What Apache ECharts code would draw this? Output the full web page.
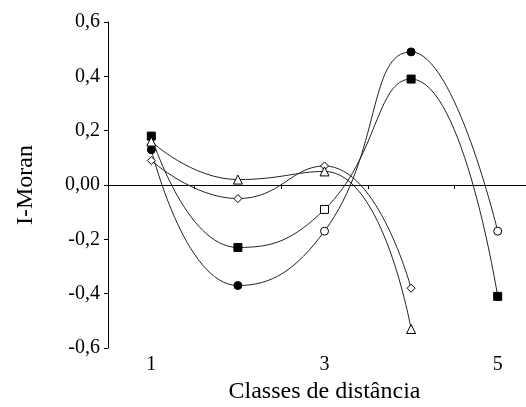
<!DOCTYPE html>
<html>
<head>
<meta charset="utf-8">
<script src="https://cdn.jsdelivr.net/npm/echarts@6/dist/echarts.min.js"></script>
<style>
  html, body { margin: 0; padding: 0; background: #fff; }
  #main { width: 526px; height: 407px; }
</style>
</head>
<body>
<div id="main"></div>
<script>
// classes de distância e valores de I de Moran
const classes = ['1', '2', '3', '4', '5'];
const circulos = [0.13, -0.37, -0.17, 0.49, -0.17];
const circulosCheios = [true, true, false, true, false];
const quadrados = [0.18, -0.23, -0.09, 0.39, -0.41];
const quadradosCheios = [true, true, false, true, true];
const losangos = [0.09, -0.05, 0.07, -0.38];
const triangulos = [0.16, 0.02, 0.05, -0.53];
const yTicks = [-0.6, 0.6, 0.2]; // min, max, intervalo

const fonte = 'Liberation Serif';

// monta os pontos, preenchidos ou vazados
function pontos(valores, cheios) {
  return valores.map((v, i) => ({
    value: v,
    itemStyle: { color: cheios && cheios[i] ? '#000' : '#fff' }
  }));
}

function serie(nome, simbolo, tamanho, dados) {
  return {
    name: nome,
    type: 'line',
    xAxisIndex: 0,
    smooth: 0.5,
    symbol: simbolo,
    symbolSize: tamanho,
    showAllSymbol: true,
    data: dados,
    lineStyle: { color: '#222', width: 1 },
    itemStyle: { color: '#fff', borderColor: '#000', borderWidth: 1 },
    z: 3
  };
}

const myChart = echarts.init(document.getElementById('main'));
myChart.setOption({
  animation: false,
  grid: { left: 108, top: 22, width: 433, height: 326, outerBoundsMode: 'none', containLabel: false },
  xAxis: [
    {
      // linha do zero com marcas entre as classes
      type: 'category',
      data: classes,
      position: 'bottom',
      boundaryGap: true,
      axisLine: { onZero: true, lineStyle: { color: '#000', width: 1 } },
      axisTick: { show: true, length: 4, lineStyle: { color: '#000' } },
      axisLabel: { show: false },
      splitLine: { show: false }
    },
    {
      // rótulos embaixo
      type: 'category',
      data: classes,
      position: 'bottom',
      boundaryGap: true,
      axisLine: { show: false },
      axisTick: { show: false },
      axisLabel: { interval: 1, margin: 7, color: '#000', fontFamily: fonte, fontSize: 20 },
      splitLine: { show: false },
      name: 'Classes de distância',
      nameLocation: 'middle',
      nameGap: 30,
      nameTextStyle: { color: '#000', fontFamily: fonte, fontSize: 24 }
    }
  ],
  yAxis: {
    type: 'value',
    min: yTicks[0],
    max: yTicks[1],
    interval: yTicks[2],
    axisLine: { show: true, lineStyle: { color: '#000', width: 1 } },
    axisTick: { show: true, length: 4, lineStyle: { color: '#000' } },
    splitLine: { show: false },
    axisLabel: {
      margin: 8,
      color: '#000',
      fontFamily: fonte,
      fontSize: 20,
      formatter: v => Math.abs(v) < 1e-9 ? '0,00' : v.toFixed(1).replace('.', ',')
    },
    name: 'I-Moran',
    nameLocation: 'middle',
    nameGap: 70,
    nameTextStyle: { color: '#000', fontFamily: fonte, fontSize: 24 }
  },
  series: [
    serie('circulos', 'circle', 8, pontos(circulos, circulosCheios)),
    serie('quadrados', 'rect', 8, pontos(quadrados, quadradosCheios)),
    serie('losangos', 'diamond', 8, pontos(losangos)),
    serie('triangulos', 'triangle', 9, pontos(triangulos))
  ]
});
</script>
</body>
</html>
